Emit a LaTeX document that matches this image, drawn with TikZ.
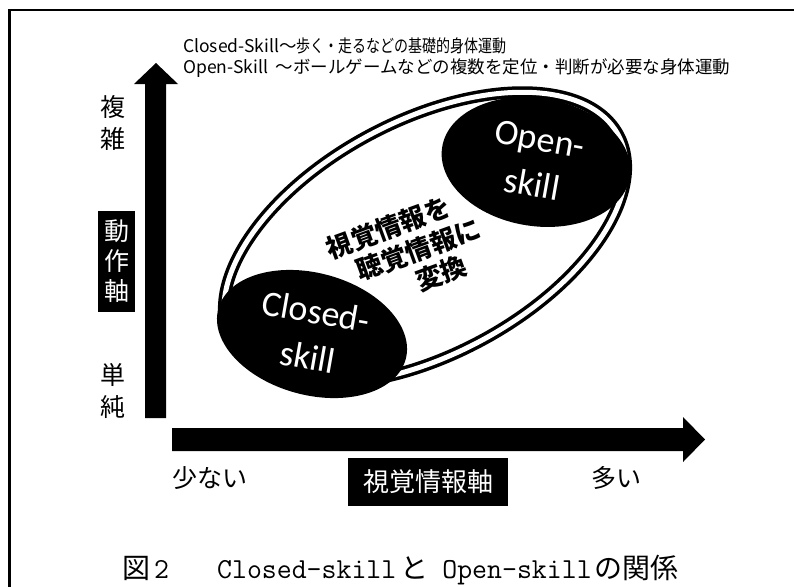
\documentclass[tikz,border=0pt]{standalone}
\usepackage{fontspec}
\setmainfont{Noto Sans CJK JP}
\newfontfamily\jpfont{Noto Sans CJK JP}
\newfontfamily\calfont{Carlito}
\usetikzlibrary{shapes.geometric}
\tikzset{
  lbl/.style={font=\fontsize{25}{25}\selectfont, inner sep=0pt},
  blackbox/.style={fill=black, text=white, inner sep=0pt, align=center},
  oval/.style={ellipse, fill=black, inner sep=0pt},
  ovaltext/.style={text=white, align=center, inner sep=0pt, font=\calfont\fontsize{36}{46}\selectfont},
  midtext/.style={font=\bfseries\fontsize{26}{30.5}\selectfont, rotate=20, inner sep=0pt, align=center},
  toptext/.style={anchor=west, inner sep=0pt, font=\fontsize{17.5}{17.5}\selectfont},
  ring/.style={ellipse, draw=black, line width=3.5pt, double=white, double distance=5pt, inner sep=0pt},
}
\begin{document}
\begin{tikzpicture}[x=1pt,y=-1pt]
\useasboundingbox (0,0) rectangle (794,586);
% frame (right and bottom sides lie outside the picture)
\draw[line width=2.5pt] (9.5,620) -- (9.5,10) -- (830,10);
% header text
\node[toptext] (t1) at (183,46) {Closed-Skill～\scalebox{0.8}[1]{歩く・走るなどの基礎的身体運動}};
\node[toptext] (t2) at (183,68) {Open-Skill\ \ ～ボールゲームなどの複数を定位・判断が必要な身体運動};
% vertical axis arrow
\fill (145,418) -- (145,84) -- (134,84) -- (156,63) -- (178,84) -- (166,84) -- (166,418) -- cycle;
% horizontal axis arrow
\fill (172,428) -- (683,428) -- (683,417) -- (705,439.5) -- (683,462) -- (683,451) -- (172,451) -- cycle;
% vertical axis labels
\node[lbl] (fuku) at (113,107) {複};
\node[lbl] (zatsu) at (113,139) {雑};
\node[blackbox, minimum width=37pt, minimum height=101pt, font=\fontsize{25}{30}\selectfont] (dosa) at (116.5,261.5) {動\\作\\軸};
\node[lbl] (tan) at (113,375) {単};
\node[lbl] (jun) at (113,407) {純};
% horizontal axis labels
\node[lbl] (sukunai) at (210,478) {少ない};
\node[blackbox, minimum width=160pt, minimum height=48pt, font=\fontsize{26}{26}\selectfont] (shikaku) at (428,482) {視覚情報軸};
\node[lbl] (ooi) at (616,478) {多い};
% big double ellipse
\node[ring, minimum width=438pt, minimum height=234pt, rotate=28] (big) at (425,238) {};
% skill ovals
\node[oval, minimum width=194pt, minimum height=122pt, rotate=-15] (closed) at (312,334) {};
\node[ovaltext, rotate=-10] (closedtxt) at (closed.center) {Closed-\\skill};
\node[oval, minimum width=190pt, minimum height=128pt, rotate=-9] (open) at (536,162) {};
\node[ovaltext, rotate=-10] (opentxt) at (open.center) {Open-\\skill};
% middle text
\node[midtext] (mid) at (418.5,249.5) {視覚情報を\rule{42pt}{0pt}\\聴覚情報に\\\rule{26pt}{0pt}変換};
% caption
\node[anchor=west, inner sep=0pt, font=\fontsize{28}{28}\selectfont] (cap) at (122,570) {図\hspace{4pt}{\ttfamily\fontsize{29}{29}\selectfont 2}\hspace{48pt}{\ttfamily\fontsize{29}{29}\selectfont Closed-skill}\hspace{4pt}と\hspace{14pt}{\ttfamily\fontsize{29}{29}\selectfont Open-skill}\hspace{3pt}の関係};
\end{tikzpicture}
\end{document}
